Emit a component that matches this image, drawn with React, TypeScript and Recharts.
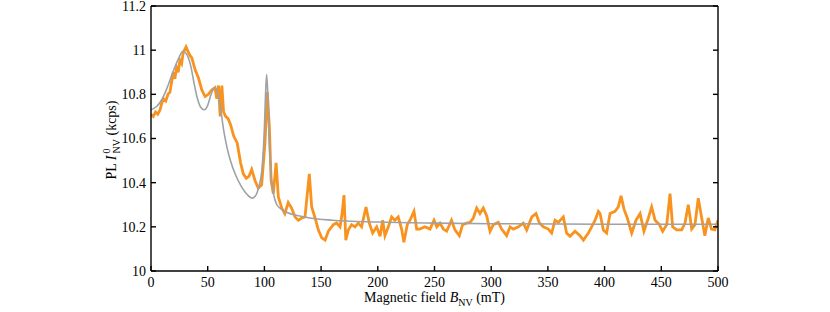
import React from 'react';
import { LineChart, Line, XAxis, YAxis } from 'recharts';

// field (mT), PL (kcps)
const measured: [number, number][] = [
  [0, 10.71], [2, 10.7], [4, 10.72], [6, 10.71], [8, 10.73], [9.5, 10.76], [11, 10.78], [13, 10.77],
  [15, 10.8], [16.7, 10.81], [18, 10.85], [19.6, 10.9], [21, 10.87],
  [22.6, 10.92], [24, 10.9], [25.5, 10.955], [27, 10.94], [28.5, 10.99], [30.9, 11.015], [33, 10.99],
  [34.5, 10.975], [36, 10.965], [39, 10.91],
  [41.8, 10.875], [44.8, 10.82], [47.7, 10.79], [50.6, 10.8], [53.5, 10.82], [56.4, 10.83], [58, 10.78],
  [59.5, 10.84], [61, 10.7], [62.5, 10.84], [64, 10.72], [65.8, 10.7], [68, 10.69], [70.3, 10.66],
  [73, 10.61], [76, 10.58], [79, 10.49], [81.4, 10.44], [84, 10.42], [86.5, 10.43], [88.8, 10.46],
  [91.7, 10.41], [94.6, 10.375], [97.6, 10.39], [100.5, 10.58], [102.6, 10.81], [104.4, 10.65],
  [105.9, 10.41], [107.9, 10.35], [110.3, 10.49], [112.3, 10.335], [115.3, 10.285], [118, 10.26],
  [121, 10.31], [124, 10.285], [127, 10.245], [130, 10.23], [132.9, 10.24], [135.8, 10.245],
  [139.6, 10.44], [141.7, 10.29], [144.7, 10.24], [147.6, 10.185], [150.6, 10.15], [153.5, 10.14],
  [156.4, 10.18], [160.8, 10.21], [163.7, 10.217], [166.7, 10.2], [168.5, 10.26], [170.2, 10.344],
  [171.8, 10.14], [174, 10.186], [176.9, 10.21], [179.9, 10.2], [182.8, 10.217], [185.7, 10.2],
  [189.6, 10.29], [192.5, 10.217], [195.5, 10.172], [199, 10.2], [202, 10.157], [204.3, 10.23],
  [206.3, 10.16], [209.3, 10.2], [212.2, 10.245], [215, 10.23], [218, 10.245], [221, 10.19],
  [223, 10.13], [226, 10.21], [228.4, 10.23], [231.9, 10.27], [234.3, 10.19], [237, 10.19],
  [241.6, 10.2], [246, 10.19], [249.6, 10.23], [252, 10.2], [254.8, 10.217], [257.8, 10.19],
  [260.7, 10.18], [265, 10.23], [268, 10.186], [271.9, 10.16], [274.8, 10.21], [278.4, 10.217],
  [281.3, 10.22], [284.2, 10.24], [287.2, 10.285], [290.1, 10.26], [293, 10.285], [296, 10.25],
  [299, 10.18], [301.9, 10.21], [306.3, 10.22], [309.2, 10.19], [313.6, 10.16], [316.6, 10.2],
  [319.5, 10.19], [324, 10.2], [328.3, 10.217], [331.3, 10.186], [335.8, 10.245], [339.5, 10.26],
  [342.5, 10.217], [346, 10.2], [350.4, 10.19], [353.3, 10.172], [356.3, 10.23], [359.2, 10.22],
  [363.6, 10.245], [366.5, 10.172], [369.5, 10.157], [373.9, 10.18], [378.3, 10.16], [381.3, 10.14],
  [385.7, 10.172], [388.6, 10.2], [391.6, 10.23], [394.5, 10.27], [396, 10.26], [398.9, 10.186],
  [401.8, 10.172], [404.8, 10.26], [409.2, 10.27], [412.1, 10.29], [414.5, 10.34], [417.1, 10.28],
  [420, 10.24], [423.9, 10.172], [427.7, 10.23], [431.3, 10.26], [434.7, 10.18], [438.6, 10.24],
  [441.5, 10.29], [444.5, 10.23], [448.3, 10.21], [451.2, 10.18], [454.8, 10.21], [457.7, 10.35],
  [460, 10.2], [463.6, 10.186], [468, 10.186], [470.9, 10.217], [473.8, 10.3], [476.8, 10.19],
  [479.7, 10.21], [482.6, 10.33], [485.5, 10.245], [488.4, 10.16], [491.4, 10.24], [494.3, 10.19],
  [497.2, 10.186], [500, 10.23],
];

const fit: [number, number][] = [
  [0, 10.73], [5, 10.745], [10, 10.78], [15, 10.84], [20, 10.91], [25, 10.97], [28, 10.995],
  [31, 10.985], [35, 10.93], [38, 10.85], [41, 10.78], [44, 10.74], [47, 10.73], [50, 10.75],
  [53, 10.8], [56, 10.83], [58, 10.82], [61, 10.75], [64, 10.64], [67, 10.56], [70, 10.5],
  [75, 10.43], [80, 10.38], [85, 10.345], [89, 10.33], [92, 10.34], [95, 10.38], [98, 10.47],
  [100, 10.65], [101, 10.8], [102, 10.89], [103, 10.8], [104, 10.62], [106, 10.43], [108, 10.35],
  [111, 10.3], [115, 10.28], [120, 10.265], [130, 10.25], [140, 10.24], [160, 10.23], [200, 10.222],
  [250, 10.217], [300, 10.214], [400, 10.212], [500, 10.212],
];

const xTicks = [0, 50, 100, 150, 200, 250, 300, 350, 400, 450, 500];
const yTicks = [10, 10.2, 10.4, 10.6, 10.8, 11, 11.2];

const measuredData = measured.map(([x, y]) => ({ x, y }));
const fitData = fit.map(([x, y]) => ({ x, y }));

const font = '"Liberation Serif", "DejaVu Serif", serif';
const tickStyle = { fontSize: 14, fill: '#000', fontFamily: font };
const blank = () => '';

const XLabel = (props: any) => {
  const vb = props.viewBox;
  const cx = vb.x + vb.width / 2;
  return (
    <text x={cx} y={302} textAnchor="middle" fontFamily={font} fontSize={14} fill="#000">
      Magnetic field <tspan fontStyle="italic">B</tspan>
      <tspan fontSize={10} dy={4}>NV</tspan>
      <tspan dy={-4}> (mT)</tspan>
    </text>
  );
};

const YLabel = () => {
  const cx = 116;
  const cy = 140;
  return (
    <text x={cx} y={cy} textAnchor="middle" fontFamily={font} fontSize={14} fill="#000"
      transform={`rotate(-90, ${cx}, ${cy})`}>
      PL <tspan fontStyle="italic">I</tspan>
      <tspan fontSize={10} dy={-6} dx={2}>0</tspan>
      <tspan fontSize={10} dy={10} dx={-5}>NV</tspan>
      <tspan dy={-4}> (kcps)</tspan>
    </text>
  );
};

export default function App() {
  return (
    <div style={{ position: 'absolute', left: 0, top: 0, background: '#fff' }}>
      <LineChart width={830} height={312} margin={{ top: 5, right: 111, bottom: 1, left: 91 }}>
        <XAxis type="number" dataKey="x" domain={[0, 500]} ticks={xTicks} interval={0}
          height={40} stroke="#000" strokeWidth={1.4} tickSize={-5} tickMargin={11}
          tick={tickStyle} label={<XLabel />} allowDataOverflow />
        <XAxis xAxisId="top" orientation="top" type="number" domain={[0, 500]} ticks={xTicks}
          interval={0} height={1} stroke="#000" strokeWidth={1.4} tickSize={-5}
          tickFormatter={blank} allowDataOverflow />
        <YAxis type="number" domain={[10, 11.2]} ticks={yTicks} interval={0} width={60}
          stroke="#000" strokeWidth={1.4} tickSize={-5} tickMargin={10} tick={tickStyle}
          label={<YLabel />} allowDataOverflow />
        <YAxis yAxisId="right" orientation="right" type="number" domain={[10, 11.2]}
          ticks={yTicks} interval={0} width={1} stroke="#000" strokeWidth={1.4} tickSize={-5}
          tickFormatter={blank} allowDataOverflow />
        <Line data={measuredData} dataKey="y" type="linear" stroke="#F7931E" strokeWidth={2.8}
          dot={false} isAnimationActive={false} />
        <Line data={fitData} dataKey="y" type="monotone" stroke="#9EA2A7" strokeWidth={1.6}
          dot={false} isAnimationActive={false} />
      </LineChart>
    </div>
  );
}
